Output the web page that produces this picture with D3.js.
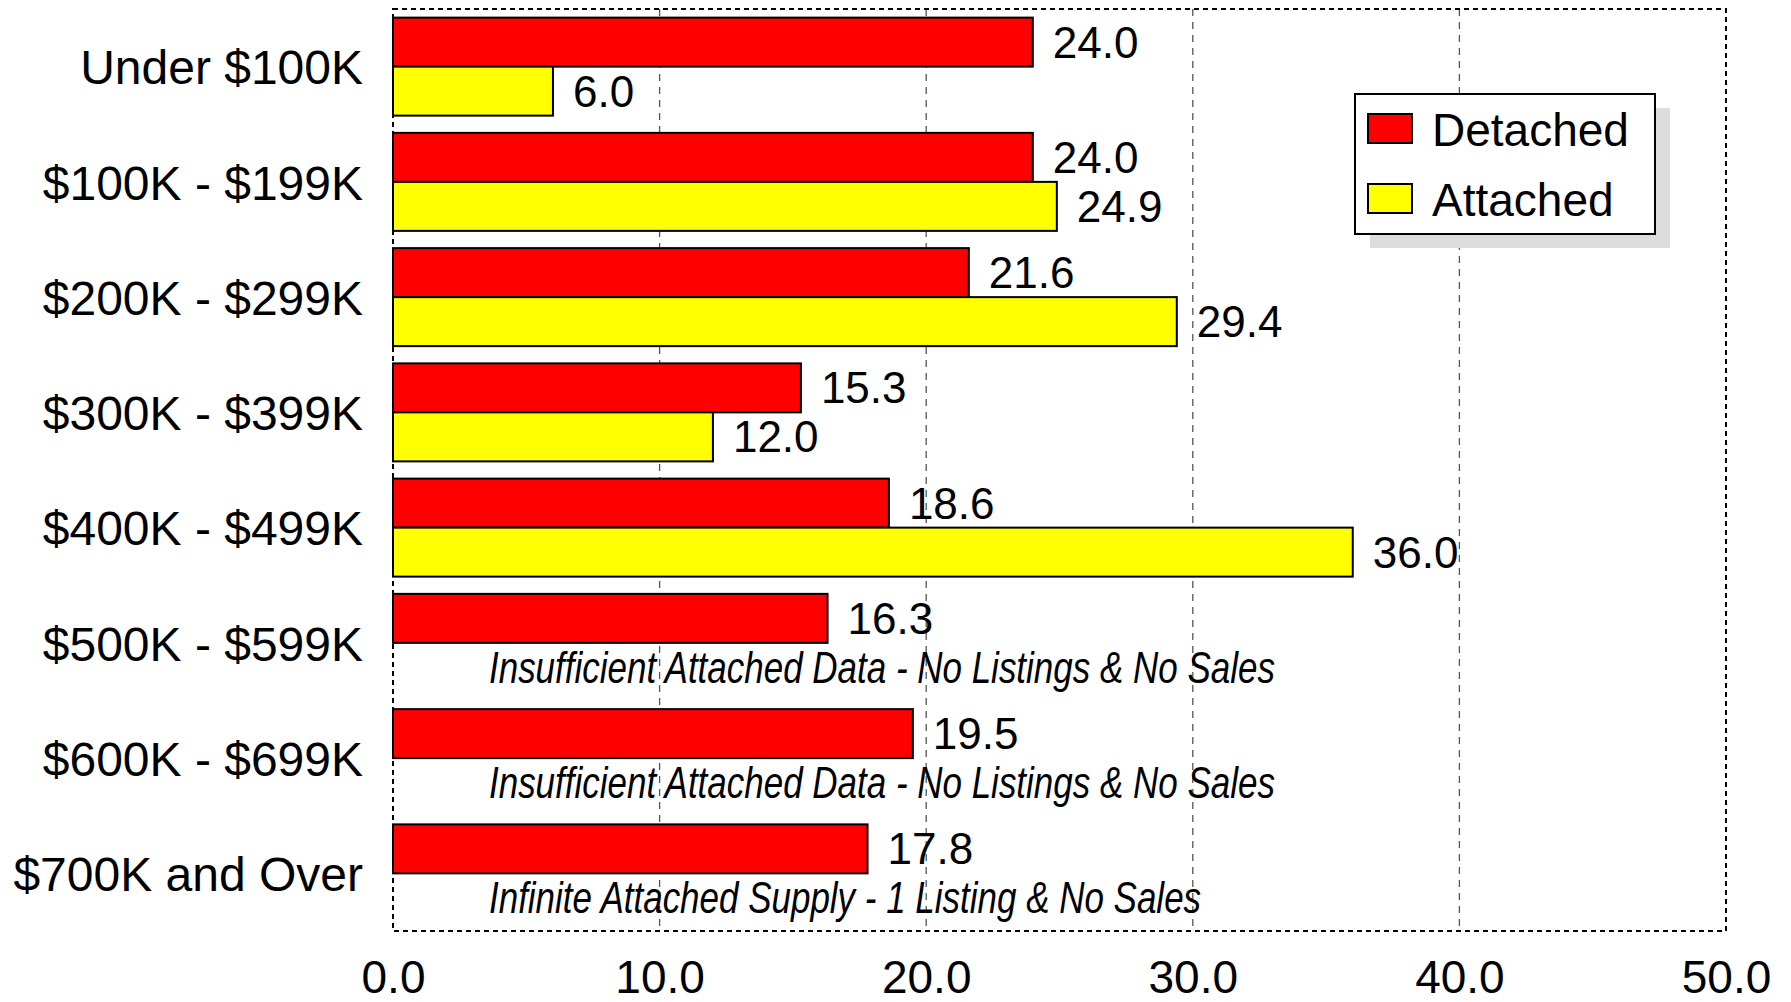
<!DOCTYPE html>
<html>
<head>
<meta charset="utf-8">
<script src="https://cdn.jsdelivr.net/npm/d3@7"></script>
<style>
  html, body { margin: 0; padding: 0; background: #fff; }
  svg { display: block; font-family: "Liberation Sans", Arial, sans-serif; }
</style>
</head>
<body>
<svg id="chart" width="1791" height="1002"></svg>
<script>
const categories = ["Under $100K", "$100K - $199K", "$200K - $299K", "$300K - $399K",
                    "$400K - $499K", "$500K - $599K", "$600K - $699K", "$700K and Over"];
const detached = [24.0, 24.0, 21.6, 15.3, 18.6, 16.3, 19.5, 17.8];
const attached = [6.0, 24.9, 29.4, 12.0, 36.0, null, null, null];
const notes = [null, null, null, null, null,
  "Insufficient Attached Data - No Listings & No Sales",
  "Insufficient Attached Data - No Listings & No Sales",
  "Infinite Attached Supply - 1 Listing & No Sales"];
const seriesNames = ["Detached", "Attached"];
const seriesColors = ["#ff0000", "#ffff00"];
const xTicks = [0, 10, 20, 30, 40, 50];

const svg = d3.select("#chart");
const L = 393, R = 1726, T = 9, B = 931;

const x = d3.scaleLinear().domain([0, 50]).range([L, R]);
const y = d3.scaleBand().domain(categories).range([T, B]).padding(0);
const ySub = d3.scaleBand().domain(seriesNames).range([0, y.bandwidth()]).paddingInner(0).paddingOuter(0.176);

// gridlines
svg.append("g").selectAll("line").data(xTicks.filter(t => t > 0 && t < 50)).join("line")
  .attr("x1", d => x(d)).attr("x2", d => x(d)).attr("y1", T).attr("y2", B)
  .attr("stroke", "#555").attr("stroke-width", 1.3).attr("stroke-dasharray", "7,6");

// plot border
svg.append("rect").attr("x", L).attr("y", T).attr("width", R - L).attr("height", B - T)
  .attr("fill", "none").attr("stroke", "#000").attr("stroke-width", 2).attr("stroke-dasharray", "5,4");

// bars
const rows = categories.map((c, i) => ({c, vals: [detached[i], attached[i]], note: notes[i]}));
const groups = svg.append("g").selectAll("g").data(rows).join("g")
  .attr("transform", d => `translate(0,${y(d.c)})`);

groups.each(function(d) {
  const g = d3.select(this);
  d.vals.forEach((v, k) => {
    if (v == null) return;
    g.append("rect")
      .attr("x", x(0)).attr("y", ySub(seriesNames[k]))
      .attr("width", x(v) - x(0)).attr("height", ySub.bandwidth())
      .attr("fill", seriesColors[k]).attr("stroke", "#000").attr("stroke-width", 2);
    g.append("text")
      .attr("x", x(v) + 20).attr("y", ySub(seriesNames[k]) + ySub.bandwidth() / 2)
      .attr("dy", "0.35em").attr("font-size", 44).attr("fill", "#000")
      .text(v.toFixed(1));
  });
  if (d.note) {
    const cy = ySub("Attached") + ySub.bandwidth() / 2;
    g.append("text")
      .attr("transform", `translate(${x(3.6)},${cy}) scale(0.795,1)`)
      .attr("dy", "0.35em").attr("font-size", 44).attr("font-style", "italic")
      .attr("fill", "#000").text(d.note);
  }
});

// category labels
svg.append("g").selectAll("text").data(categories).join("text")
  .attr("x", 363).attr("y", d => y(d) + y.bandwidth() / 2 + 1)
  .attr("dy", "0.35em").attr("text-anchor", "end").attr("font-size", 48)
  .attr("fill", "#000").text(d => d);

// x axis
const xAxis = d3.axisBottom(x).tickValues(xTicks).tickFormat(d3.format(".1f"))
  .tickSize(0).tickPadding(29);
const ax = svg.append("g").attr("transform", `translate(0,${B})`).call(xAxis);
ax.select(".domain").remove();
ax.selectAll("text").attr("font-size", 46).attr("fill", "#000")
  .attr("font-family", "Liberation Sans, Arial, sans-serif");

// legend
const lg = svg.append("g");
lg.append("rect").attr("x", 1370).attr("y", 108).attr("width", 300).attr("height", 140).attr("fill", "#dddddd");
lg.append("rect").attr("x", 1355).attr("y", 94).attr("width", 300).attr("height", 140)
  .attr("fill", "#fff").attr("stroke", "#000").attr("stroke-width", 2);
seriesNames.forEach((s, k) => {
  const yy = 114 + k * 70;
  lg.append("rect").attr("x", 1368).attr("y", yy).attr("width", 44).attr("height", 29)
    .attr("fill", seriesColors[k]).attr("stroke", "#000").attr("stroke-width", 2);
  lg.append("text").attr("x", 1432).attr("y", yy + 32).attr("font-size", 46)
    .attr("fill", "#000").text(s);
});
</script>
</body>
</html>
